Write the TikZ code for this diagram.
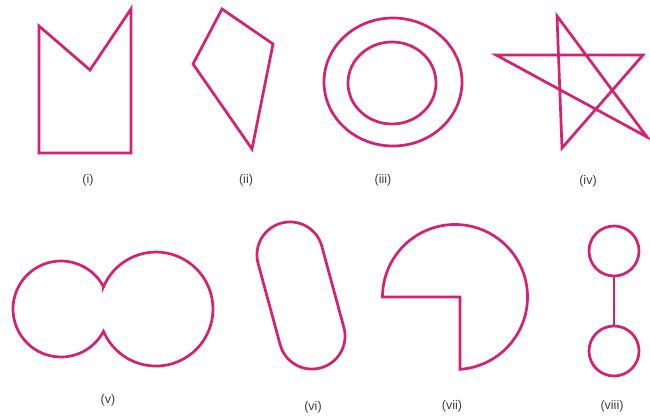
\documentclass[tikz,border=0pt]{standalone}
\usepackage{fontspec}
\setmainfont{Liberation Sans}
\definecolor{pinkline}{RGB}{214,32,112}
\definecolor{labelgray}{RGB}{60,60,60}
\begin{document}
\begin{tikzpicture}[x=1pt,y=1pt,
  shapeline/.style={draw=pinkline,line width=2.7pt,line join=miter},
  lbl/.style={text=labelgray,font=\fontsize{12.5}{14}\selectfont,inner sep=0pt}]
\useasboundingbox (0,0) rectangle (650,417);
% (i)
\draw[shapeline] (39,391) -- (90,347) -- (131,408) -- (131,264) -- (39,264) -- cycle;
\node[lbl] (l1) at (88,237) {(i)};
% (ii)
\draw[shapeline] (222,408) -- (273,373) -- (252,268) -- (193,353) -- cycle;
\node[lbl] (l2) at (246,237) {(ii)};
% (iii)
\draw[shapeline] (393,335) ellipse [x radius=69, y radius=64];
\draw[shapeline] (392,334) ellipse [x radius=44, y radius=41];
\node[lbl] (l3) at (383,237) {(iii)};
% (iv)
\draw[shapeline] (496,362) -- (643,362) -- (562,269) -- (557,401) -- (647,280) -- cycle;
\node[lbl] (l4) at (588,236) {(iv)};
% (v)
\draw[shapeline] (103.5,130.3) arc[start angle=27.7, end angle=332.3, radius=48]
  arc[start angle=203, end angle=517, radius=57] -- cycle;
\node[lbl] (l5) at (108,17) {(v)};
% (vi)
\begin{scope}[shift={(301,121.5)},rotate=15.2]
\draw[shapeline,rounded corners=32.9pt] (-33,-75) rectangle (33,75);
\end{scope}
\node[lbl] (l6) at (313,10) {(vi)};
% (vii)
\draw[shapeline] (382.5,120) arc[start angle=180, end angle=-86, radius=72.5] -- (460,120) -- cycle;
\node[lbl] (l7) at (452,11) {(vii)};
% (viii)
\node[shapeline,circle,minimum size=50pt,inner sep=0pt] (c1) at (614,166) {};
\node[shapeline,circle,minimum size=50pt,inner sep=0pt] (c2) at (614,66) {};
\draw[shapeline] (c1) -- (c2);
\node[lbl] (l8) at (612,11) {(viii)};
\end{tikzpicture}
\end{document}
